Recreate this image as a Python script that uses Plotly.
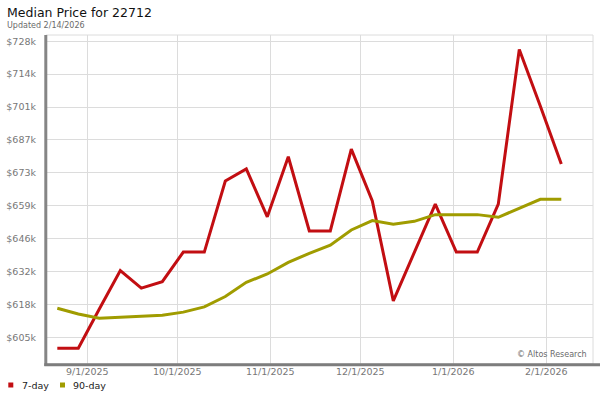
import plotly.graph_objects as go

# ---- data ----
dates = ["2025-08-22", "2025-08-29", "2025-09-05", "2025-09-12", "2025-09-19",
         "2025-09-26", "2025-10-03", "2025-10-10", "2025-10-17", "2025-10-24",
         "2025-10-31", "2025-11-07", "2025-11-14", "2025-11-21", "2025-11-28",
         "2025-12-05", "2025-12-12", "2025-12-19", "2025-12-26", "2026-01-02",
         "2026-01-09", "2026-01-16", "2026-01-23", "2026-01-30", "2026-02-06"]

price_7day = [600100, 600100, 616400, 632400, 625100, 627800, 640100, 640100,
              669700, 674700, 654800, 679800, 648900, 648900, 683000, 661400,
              619800, 640000, 660100, 640100, 640100, 660100, 724500, 700900,
              676800]

price_90day = [616700, 614300, 612600, 612900, 613200, 613800, 615100, 617300,
               621600, 627500, 631000, 635800, 639600, 643000, 649300, 653200,
               651700, 652900, 655700, 655700, 655700, 654600, 658300, 662100,
               662100]

y_tick_vals = [604600, 618300, 632000, 645700, 659400, 673100, 686800,
               700500, 714200, 727900]
y_tick_text = ["$605k", "$618k", "$632k", "$646k", "$659k", "$673k", "$687k",
               "$701k", "$714k", "$728k"]

series_names = ["7-day", "90-day"]
series_colors = ["#c20e12", "#a09c00"]

title_text = "Median Price for 22712"
subtitle_text = "Updated 2/14/2026"
credit_text = "© Altos Research"

# ---- layout geometry (pixels) ----
W, H = 600, 400
ML, MR, MT, MB = 46, 7, 35, 36
PW = W - ML - MR
PH = H - MT - MB


def px_x(px):
    return (px - ML) / PW


def px_y(py):
    return (H - MB - py) / PH


FONT = "DejaVu Sans"

fig = go.Figure()
for name, vals, col in zip(series_names, [price_7day, price_90day], series_colors):
    fig.add_trace(go.Scatter(
        x=dates, y=vals, mode="lines", name=name,
        line=dict(color=col, width=3), showlegend=False,
        hovertemplate="%{x}<br>%{y:$,.0f}<extra>" + name + "</extra>",
    ))

shapes = [
    # light border top/right
    dict(type="rect", xref="paper", yref="paper", x0=0, y0=0, x1=1, y1=1,
         line=dict(color="#dcdcdc", width=1), layer="below"),
    # left axis line
    dict(type="line", xref="paper", yref="paper", x0=px_x(45.8), x1=px_x(45.8),
         y0=px_y(366), y1=1, line=dict(color="#858585", width=3), layer="above"),
    # bottom axis line extending to the right edge
    dict(type="line", xref="paper", yref="paper", x0=px_x(44.3), x1=px_x(600),
         y0=px_y(364.7), y1=px_y(364.7), line=dict(color="#7d7d7d", width=3),
         layer="above"),
]

annotations = [
    dict(text=subtitle_text, xref="paper", yref="paper", x=px_x(7), y=px_y(26),
         xanchor="left", yanchor="middle", showarrow=False, borderpad=0,
         borderwidth=0, font=dict(family=FONT, size=8, color="#6a6a6a")),
    dict(text=credit_text, xref="paper", yref="paper", x=px_x(587), y=px_y(354),
         xanchor="right", yanchor="middle", showarrow=False, borderpad=0,
         borderwidth=0, font=dict(family=FONT, size=8, color="#6a6a6a")),
]

# custom legend (square swatch + label)
legend_sq_x = [8.3, 60]
legend_txt_x = [21.7, 72.7]
for name, col, sx, tx in zip(series_names, series_colors, legend_sq_x, legend_txt_x):
    shapes.append(dict(type="rect", xref="paper", yref="paper",
                       x0=px_x(sx), x1=px_x(sx + 5), y0=px_y(387.5), y1=px_y(382.5),
                       line=dict(width=0), fillcolor=col))
    annotations.append(dict(text=name, xref="paper", yref="paper", x=px_x(tx),
                            y=px_y(385), xanchor="left", yanchor="middle",
                            showarrow=False, borderpad=0, borderwidth=0,
                            font=dict(family=FONT, size=9.5, color="#222222")))

fig.update_layout(
    width=W, height=H,
    margin=dict(l=ML, r=MR, t=MT, b=MB),
    paper_bgcolor="white", plot_bgcolor="white",
    font=dict(family=FONT, size=9.5, color="#777777"),
    title=dict(text=title_text, x=7 / W, xanchor="left", xref="container",
               y=1 - 12.8 / H, yanchor="middle", yref="container",
               font=dict(family=FONT, size=12.5, color="#111111")),
    showlegend=False,
    shapes=shapes,
    annotations=annotations,
    xaxis=dict(
        type="date",
        range=["2025-08-18 05:30", "2026-02-16 13:40"],
        tick0="2025-09-01", dtick="M1", tickformat="%-m/%-d/%Y",
        showgrid=True, gridcolor="#dcdcdc", gridwidth=1,
        showline=False, zeroline=False, ticks="",
        tickfont=dict(family=FONT, size=9.5, color="#777777"),
        fixedrange=True,
    ),
    yaxis=dict(
        range=[593500, 730500],
        tickmode="array", tickvals=y_tick_vals, ticktext=y_tick_text,
        showgrid=True, gridcolor="#dcdcdc", gridwidth=1,
        showline=False, zeroline=False, ticks="",
        ticklabelstandoff=9,
        tickfont=dict(family=FONT, size=9.5, color="#777777"),
        fixedrange=True,
    ),
)

fig.write_html(
    "out.html",
    config={"displayModeBar": False},
    post_script="document.body.style.margin='0px';document.body.style.padding='0px';",
)
